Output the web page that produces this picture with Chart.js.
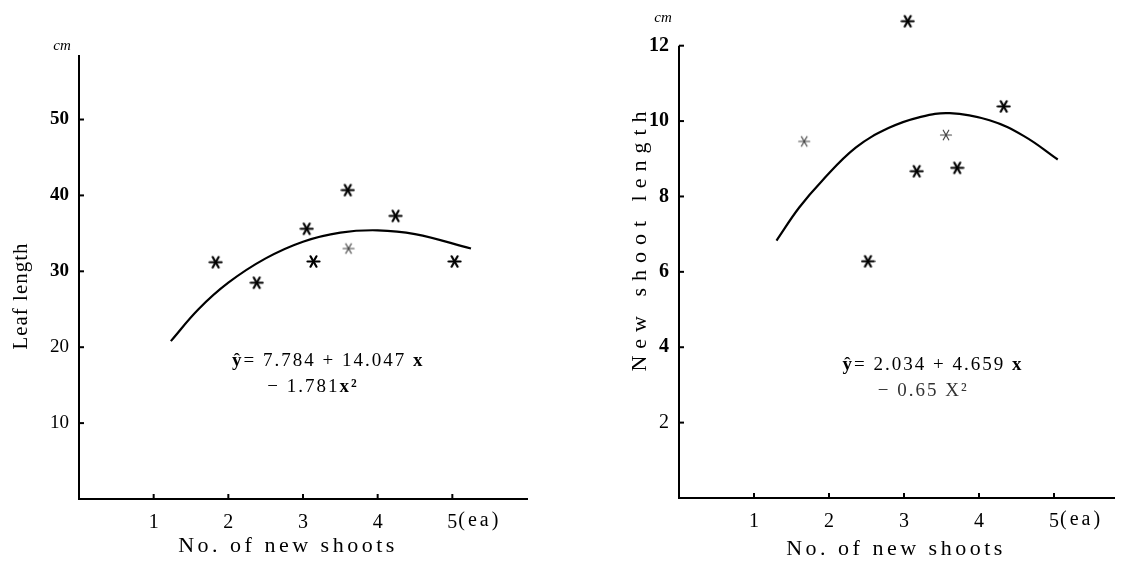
<!DOCTYPE html>
<html>
<head>
<meta charset="utf-8">
<script src="https://cdn.jsdelivr.net/npm/chart.js@4.4.1/dist/chart.umd.min.js"></script>
<style>
  html, body { margin: 0; padding: 0; background: #fff; }
  .wrap { position: absolute; top: 0; width: 567px; height: 569px; }
  #leafWrap { left: 0; }
  #shootWrap { left: 567px; }
</style>
</head>
<body>
<div class="wrap" id="leafWrap"><canvas id="leafChart"></canvas></div>
<div class="wrap" id="shootWrap"><canvas id="shootChart"></canvas></div>
<script>
// Leaf length (cm) against number of new shoots
const leafX = [1.83, 2.38, 3.05, 3.14, 3.60, 3.61, 4.24, 5.03]
const leafY = [31.2, 28.5, 35.6, 31.3, 40.7, 33.0, 37.3, 31.3]
const leafFaint = [false, false, false, false, false, true, false, false]
// fitted curve
const leafCurveX = [1.23, 1.6, 2.0, 2.5, 3.0, 3.5, 4.0, 4.5, 5.25]
const leafCurveY = [20.8, 25.0, 28.5, 31.7, 33.9, 35.1, 35.4, 34.9, 33.0]
const leafTicksY = [10, 20, 30, 40, 50]

// New shoot length (cm) against number of new shoots
const shootX = [1.67, 2.52, 3.05, 3.17, 3.56, 3.71, 4.33]
const shootY = [9.46, 6.28, 12.65, 8.67, 9.63, 8.76, 10.39]
const shootFaint = [true, false, false, false, true, false, false]
const shootCurveX = [1.30, 1.60, 1.90, 2.36, 2.80, 3.20, 3.61, 4.14, 4.60, 5.05]
const shootCurveY = [6.83, 7.70, 8.40, 9.30, 9.82, 10.10, 10.21, 10.02, 9.60, 8.98]
const shootTicksY = [2, 4, 6, 8, 10, 12]

const shootTicksX = [1, 2, 3, 4, 5]

const SERIF = "'Liberation Serif', 'DejaVu Serif', serif"

// printed asterisk marker: three strokes through the centre
function asterisk(size, width, color) {
  const c = document.createElement('canvas')
  c.width = c.height = size
  const g = c.getContext('2d')
  g.strokeStyle = color
  g.lineWidth = width
  g.lineCap = 'round'
  const r = size / 2 - 1.5
  for (let a = 0; a < 3; a++) {
    const t = a * Math.PI / 3
    g.beginPath()
    g.moveTo(size / 2 - r * Math.cos(t), size / 2 - r * Math.sin(t))
    g.lineTo(size / 2 + r * Math.cos(t), size / 2 + r * Math.sin(t))
    g.stroke()
  }
  return c
}
const starDark = asterisk(15, 2.2, '#000')
const starFaint = asterisk(14, 1.2, '#444')

function toPoints(xs, ys) {
  return xs.map((x, i) => ({ x: x, y: ys[i] }))
}

// keep tick labels from pushing the plot area around
function noLabelPadding(s) {
  s.paddingTop = 0
  s.paddingBottom = 0
  s.paddingLeft = 0
  s.paddingRight = 0
}

// y axis line, inward ticks, axis titles, unit and the regression equation
const decorations = {
  id: 'decorations',
  afterDraw(chart, args, opts) {
    const { ctx, chartArea, scales } = chart
    ctx.save()
    ctx.strokeStyle = '#000'
    ctx.lineWidth = 2
    ctx.beginPath()
    ctx.moveTo(chartArea.left, chartArea.bottom + 1)
    ctx.lineTo(chartArea.left, scales.y.getPixelForValue(opts.axisTop))
    ctx.stroke()
    scales.y.ticks.forEach(t => {
      const y = scales.y.getPixelForValue(t.value)
      ctx.beginPath()
      ctx.moveTo(chartArea.left, y)
      ctx.lineTo(chartArea.left + 5, y)
      ctx.stroke()
    })
    scales.x.ticks.forEach(t => {
      const x = scales.x.getPixelForValue(t.value)
      ctx.beginPath()
      ctx.moveTo(x, chartArea.bottom)
      ctx.lineTo(x, chartArea.bottom - 5)
      ctx.stroke()
    })

    ctx.fillStyle = '#000'
    ctx.textBaseline = 'middle'
    opts.titles.forEach(tl => {
      ctx.save()
      ctx.font = tl.font
      ctx.letterSpacing = (tl.spacing || 0) + 'px'
      ctx.textAlign = tl.align || 'center'
      ctx.translate(tl.x, tl.y)
      if (tl.rotate) ctx.rotate(tl.rotate)
      ctx.fillText(tl.text, 0, 0)
      ctx.restore()
    })

    // "(ea)" trails the last category label
    const last = scales.x.ticks[scales.x.ticks.length - 1]
    ctx.save()
    ctx.font = opts.unitX.font
    ctx.letterSpacing = opts.unitX.spacing + 'px'
    ctx.textAlign = 'left'
    ctx.fillText(opts.unitX.text, scales.x.getPixelForValue(last.value) + 6, chartArea.bottom + opts.unitX.dy)
    ctx.restore()

    // equation lines, anchored in data coordinates
    ctx.textBaseline = 'alphabetic'
    opts.equation.forEach(line => {
      let x = scales.x.getPixelForValue(line.at[0])
      const y = scales.y.getPixelForValue(line.at[1])
      line.parts.forEach(p => {
        ctx.font = p[1] + ' ' + opts.eqSize + 'px ' + SERIF
        ctx.letterSpacing = opts.eqSpacing + 'px'
        ctx.textAlign = 'left'
        ctx.fillStyle = p[2] || '#000'
        ctx.fillText(p[0], x, y)
        x += ctx.measureText(p[0]).width
      })
    })
    ctx.restore()
  }
}

function makeChart(el, cfg) {
  return new Chart(el, {
    type: 'scatter',
    data: {
      datasets: [
        {
          data: cfg.curve,
          showLine: true,
          borderColor: '#000',
          borderWidth: 2.2,
          pointRadius: 0,
          tension: 0.4,
          order: 2
        },
        {
          data: cfg.points,
          showLine: false,
          pointStyle: cfg.faint.map(f => f ? starFaint : starDark),
          pointRadius: 7,
          clip: false,
          order: 1
        }
      ]
    },
    options: {
      responsive: true,
      maintainAspectRatio: false,
      animation: false,
      events: [],
      layout: { padding: cfg.padding },
      plugins: {
        legend: { display: false },
        tooltip: { enabled: false },
        decorations: cfg.deco
      },
      scales: {
        x: {
          type: 'linear',
          min: 0,
          max: cfg.xMax,
          afterBuildTicks: s => { s.ticks = shootTicksX.map(v => ({ value: v })) },
          afterFit: s => { s.height = cfg.xHeight; noLabelPadding(s) },
          grid: { drawOnChartArea: false, drawTicks: false },
          border: { color: '#000', width: 2 },
          ticks: {
            color: '#000',
            padding: 12,
            maxRotation: 0,
            autoSkip: false,
            font: { family: SERIF, size: 20 }
          }
        },
        y: {
          type: 'linear',
          min: 0,
          max: cfg.yMax,
          afterBuildTicks: s => { s.ticks = cfg.yTicks.map(v => ({ value: v })) },
          afterFit: s => { s.width = cfg.yWidth; noLabelPadding(s) },
          grid: { drawOnChartArea: false, drawTicks: false },
          border: { display: false },
          ticks: {
            color: '#000',
            padding: 10,
            font: c => ({ family: SERIF, size: cfg.yFont, weight: c.tick && c.tick.value >= cfg.boldFrom ? 'bold' : 'normal' })
          }
        }
      }
    },
    plugins: [decorations]
  })
}

makeChart(document.getElementById('leafChart'), {
  curve: toPoints(leafCurveX, leafCurveY),
  points: toPoints(leafX, leafY),
  faint: leafFaint,
  yTicks: leafTicksY,
  xMax: 6,
  yMax: 58.5,
  yWidth: 79,
  xHeight: 70,
  yFont: 19,
  boldFrom: 30,
  padding: { top: 55, right: 40, bottom: 0, left: 0 },
  deco: {
    axisTop: 58.5,
    titles: [
      { text: 'Leaf length', x: 21, y: 296, rotate: -Math.PI / 2, font: '21px ' + SERIF, spacing: 1 },
      { text: 'No. of new shoots', x: 288, y: 546, font: '22px ' + SERIF, spacing: 3.5 },
      { text: 'cm', x: 62, y: 46, font: 'italic 15px ' + SERIF, spacing: 0 }
    ],
    unitX: { text: '(ea)', font: '20px ' + SERIF, spacing: 3, dy: 22 },
    eqSize: 19,
    eqSpacing: 2,
    equation: [
      { at: [2.05, 17.5], parts: [['ŷ', 'bold'], ['= 7.784 + 14.047 ', 'normal'], ['x', 'bold']] },
      { at: [2.52, 14.1], parts: [['− 1.781', 'normal'], ['x²', 'bold']] }
    ]
  }
})

makeChart(document.getElementById('shootChart'), {
  curve: toPoints(shootCurveX, shootCurveY),
  points: toPoints(shootX, shootY),
  faint: shootFaint,
  yTicks: shootTicksY,
  xMax: 5.8,
  yMax: 13,
  yWidth: 112,
  xHeight: 71,
  yFont: 20,
  boldFrom: 4,
  padding: { top: 5, right: 20, bottom: 0, left: 0 },
  deco: {
    axisTop: 12,
    titles: [
      { text: 'New shoot length', x: 73, y: 238, rotate: -Math.PI / 2, font: '22px ' + SERIF, spacing: 7 },
      { text: 'No. of new shoots', x: 329, y: 549, font: '22px ' + SERIF, spacing: 3.5 },
      { text: 'cm', x: 96, y: 18, font: 'italic 15px ' + SERIF, spacing: 0 }
    ],
    unitX: { text: '(ea)', font: '20px ' + SERIF, spacing: 3, dy: 22 },
    eqSize: 19,
    eqSpacing: 2,
    equation: [
      { at: [2.18, 3.40], parts: [['ŷ', 'bold'], ['= 2.034 + 4.659 ', 'normal'], ['x', 'bold']] },
      { at: [2.65, 2.71], parts: [['− 0.65 X²', 'normal', '#333']] }
    ]
  }
})
</script>
</body>
</html>
